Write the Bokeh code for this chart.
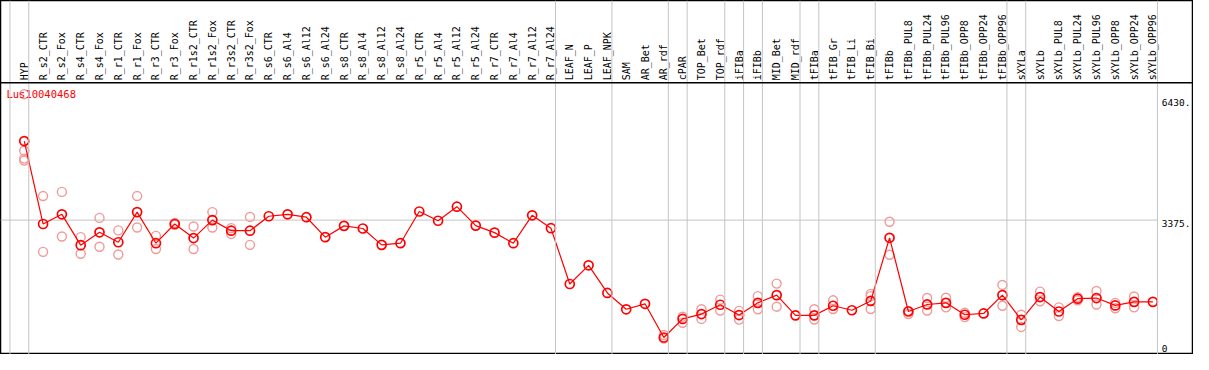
import math
from bokeh.plotting import figure
from bokeh.models import Range1d, Span, ColumnDataSource
from bokeh.core.properties import value
from bokeh.embed import file_html
from bokeh.resources import INLINE

title = "Lus10040468"

categories = ["HYP", "R_s2_CTR", "R_s2_Fox", "R_s4_CTR", "R_s4_Fox", "R_r1_CTR", "R_r1_Fox",
              "R_r3_CTR", "R_r3_Fox", "R_r1s2_CTR", "R_r1s2_Fox", "R_r3s2_CTR", "R_r3s2_Fox",
              "R_s6_CTR", "R_s6_Al4", "R_s6_Al12", "R_s6_Al24", "R_s8_CTR", "R_s8_Al4",
              "R_s8_Al12", "R_s8_Al24", "R_r5_CTR", "R_r5_Al4", "R_r5_Al12", "R_r5_Al24",
              "R_r7_CTR", "R_r7_Al4", "R_r7_Al12", "R_r7_Al24", "LEAF_N", "LEAF_P", "LEAF_NPK",
              "SAM", "AR_Bet", "AR_rdf", "cPAR", "TOP_Bet", "TOP_rdf", "iFIBa", "iFIBb",
              "MID_Bet", "MID_rdf", "tFIBa", "tFIB_Gr", "tFIB_Li", "tFIB_Bi", "tFIBb",
              "tFIBb_PUL8", "tFIBb_PUL24", "tFIBb_PUL96", "tFIBb_OPP8", "tFIBb_OPP24",
              "tFIBb_OPP96", "sXYLa", "sXYLb", "sXYLb_PUL8", "sXYLb_PUL24", "sXYLb_PUL96",
              "sXYLb_OPP8", "sXYLb_OPP24", "sXYLb_OPP96"]

means = [5375, 3277, 3521, 2742, 3066, 2815, 3577, 2791, 3277, 2920, 3375, 3107, 3107,
         3472, 3521, 3448, 2944, 3229, 3163, 2749, 2791, 3593, 3358, 3715, 3236,
         3058, 2791, 3496, 3170, 1759, 2231, 1533, 1119, 1258, 406, 876, 998, 1234,
         973, 1282, 1477, 966, 966, 1209, 1095, 1331, 2927, 1063, 1241, 1282, 981,
         1014, 1477, 852, 1428, 1063, 1387, 1404, 1217, 1307, 1307]

replicates = [
    [6560, 5130, 4930, 4880],  # HYP
    [3983, 2572], [4088, 2961], [2944, 2523], [3431, 2701], [3114, 2506], [3983, 3187],
    [2976, 2645], [3300, 3255], [3212, 2645], [3577, 3187], [3171, 3025], [3455, 2749],
    [], [], [], [], [], [], [], [], [], [], [], [], [], [], [], [],   # R_s6_CTR .. R_r7_Al24
    [], [], [], [], [],                                                # LEAF_N .. AR_Bet
    [470, 380],      # AR_rdf
    [932, 779],      # cPAR
    [1119, 876],     # TOP_Bet
    [1363, 1088],    # TOP_rdf
    [1079, 859],     # iFIBa
    [1453, 1119],    # iFIBb
    [1769, 1185],    # MID_Bet
    [],              # MID_rdf
    [1119, 860],     # tFIBa
    [1346, 1127],    # tFIB_Gr
    [],              # tFIB_Li
    [1509, 1453, 1127],  # tFIB_Bi
    [3333, 2499],    # tFIBb
    [1080, 1000],    # tFIBb_PUL8
    [1404, 1088],    # tFIBb_PUL24
    [1411, 1168],    # tFIBb_PUL96
    [1030, 920],     # tFIBb_OPP8
    [],              # tFIBb_OPP24
    [1735, 1209],    # tFIBb_OPP96
    [981, 673],      # sXYLa
    [1565, 1322],    # sXYLb
    [1168, 949],     # sXYLb_PUL8
    [1428, 1346],    # sXYLb_PUL24
    [1582, 1241],    # sXYLb_PUL96
    [1282, 1144],    # sXYLb_OPP8
    [1443, 1168],    # sXYLb_OPP24
    [],              # sXYLb_OPP96
]

# index of the last category of each group (-1 = left edge)
group_ends = [-1, 0, 28, 31, 34, 35, 37, 38, 39, 41, 42, 45, 52, 53, 60]

y_ticks = [0, 3375, 6430]
y_tick_labels = ["0", "3375.", "6430."]

# ---------------------------------------------------------------
n = len(categories)
xs = list(range(n))

# scale: data value -> reference pixel ; 3375 -> 228.3 px, 0 -> 367 px
PX_PER_UNIT = 0.0411
def v_at(px):
    return (367.0 - px) / PX_PER_UNIT

def x_at(px):
    return (px - 26.0) / 19.0

W, H = 1193, 354
p = figure(width=W, height=H, output_backend="svg", toolbar_location=None,
           x_range=Range1d(x_at(2), x_at(1207)), y_range=Range1d(v_at(368), v_at(0)),
           min_border=0, min_border_left=0, min_border_right=0,
           min_border_top=0, min_border_bottom=0)
p.axis.visible = False
p.grid.visible = False
p.outline_line_color = "black"
p.outline_line_width = 1.5
p.background_fill_color = "white"
p.border_fill_color = "white"

grey = "#c4c4c4"
# group separator lines
for g in group_ends:
    p.add_layout(Span(location=g + 0.24, dimension="height", line_color=grey, line_width=1))

# horizontal reference line at middle tick
p.segment(x0=[x_at(2)], x1=[group_ends[-1] + 0.24], y0=[y_ticks[1]], y1=[y_ticks[1]],
          line_color=grey, line_width=1)

# header separator
p.add_layout(Span(location=v_at(85.5), dimension="width", line_color="black", line_width=1.5))

# replicates
rx, ry = [], []
for i, reps in enumerate(replicates):
    for r in reps:
        rx.append(i)
        ry.append(r)
p.scatter(rx, ry, marker="circle", size=9, fill_alpha=0, line_color="#f09a9a", line_width=1.4)

# mean line + markers
p.line(xs, means, line_color="red", line_width=1.2)
p.scatter(xs, means, marker="circle", size=9, fill_alpha=0, line_color="red", line_width=1.7)

# category labels (vertical)
src = ColumnDataSource(dict(x=xs, y=[v_at(83)] * n, t=categories))
p.text(x="x", y="y", text="t", source=src, angle=math.pi / 2, text_align="left",
       text_baseline="middle", text_font=value("DejaVu Sans Mono"), text_font_size="10px",
       text_color="black")

# title
p.text(x=[x_at(8)], y=[v_at(97)], text=[title], text_align="left", text_baseline="middle",
       text_font=value("DejaVu Sans Mono"), text_font_size="10.5px", text_color="red")

# y tick labels on the right
tick_y = [v_at(365), y_ticks[1], y_ticks[2]]
tick_baselines = ["bottom", "top", "top"]
for yv, lab, bl in zip(tick_y, y_tick_labels, tick_baselines):
    p.text(x=[x_at(1175)], y=[yv], text=[lab], text_align="left", text_baseline=bl,
           text_font=value("DejaVu Sans Mono"), text_font_size="9.5px", text_color="black")

open("out.html", "w").write(file_html(p, INLINE))
